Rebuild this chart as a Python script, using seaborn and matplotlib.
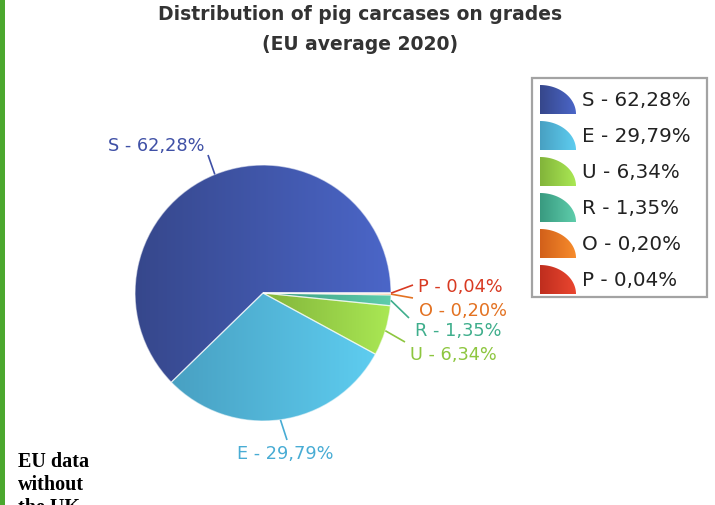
import numpy as np
import matplotlib
matplotlib.use("Agg")
import matplotlib.pyplot as plt
from matplotlib.patches import Rectangle, Polygon
from matplotlib import font_manager
import seaborn as sns

# ---- data ----
grades = ["S", "E", "U", "R", "O", "P"]
shares = [62.28, 29.79, 6.34, 1.35, 0.20, 0.04]
share_texts = ["62,28%", "29,79%", "6,34%", "1,35%", "0,20%", "0,04%"]
dark_colors = ["#36478b", "#48a0c2", "#82b43a", "#399a80", "#d2601a", "#bf2e1e"]
light_colors = ["#4b66c8", "#5ecdf0", "#aae854", "#5ecdab", "#f78c2c", "#ea4630"]
label_colors = ["#3f50a6", "#48acd4", "#8dc63f", "#3fae8c", "#e37222", "#d83a22"]
title_lines = ["Distribution of pig carcases on grades", "(EU average 2020)"]
note_lines = ["EU data", "without", "the UK"]

# ---- layout (pixels, y downward) ----
W, H = 715, 505
CX, CY, RAD = 263, 293, 128
leader_ends = [(208, 155), (287, 440), (405, 342), (409, 318), (413, 298), (413, 285)]
label_pos = [(205, 146), (285, 454), (410, 355), (415, 331), (419, 311), (418, 287)]
label_ha = ["right", "center", "left", "left", "left", "left"]

sns.set_style("white")
plt.rcParams["font.family"] = ["DejaVu Sans"]

# condensed bold title font if available
names = {f.name for f in font_manager.fontManager.ttflist}
if "DejaVu Sans Condensed" in names:
    title_family, title_size = ["DejaVu Sans Condensed"], 14.8
else:
    title_family, title_size = ["DejaVu Sans"], 13.5

fig = plt.figure(figsize=(W / 100, H / 100), dpi=100)
ax = fig.add_axes([0, 0, 1, 1])


def Y(y):
    return H - y


grad = np.linspace(0, 1, 256).reshape(1, -1)

wedges, _ = ax.pie(shares, center=(CX, Y(CY)), radius=RAD, startangle=0,
                   counterclock=True, frame=False)

for i, w in enumerate(wedges):
    v = w.get_path().vertices
    x0, x1 = v[:, 0].min(), v[:, 0].max()
    y0, y1 = v[:, 1].min(), v[:, 1].max()
    cmap = sns.blend_palette([dark_colors[i], light_colors[i]], as_cmap=True)
    im = ax.imshow(grad, cmap=cmap, extent=[x0, x1, y0, y1], aspect="auto",
                   origin="lower", interpolation="bilinear", zorder=2)
    im.set_clip_path(w)
    w.set_facecolor("none")
    w.set_edgecolor((1, 1, 1, 0.55))
    w.set_linewidth(0.9)
    w.set_zorder(3)

    theta = np.deg2rad((w.theta1 + w.theta2) / 2)
    rx = CX + RAD * np.cos(theta)
    ry = Y(CY) + RAD * np.sin(theta)
    ex, ey = leader_ends[i]
    ax.plot([rx, ex], [ry, Y(ey)], color=label_colors[i], lw=1.2, zorder=4,
            solid_capstyle="butt")
    tx, ty = label_pos[i]
    ax.text(tx, Y(ty), f"{grades[i]} - {share_texts[i]}", color=label_colors[i],
            fontsize=12.8, ha=label_ha[i], va="center", zorder=5)

# ---- legend ----
ax.add_patch(Rectangle((532, Y(297)), 175, 219, facecolor="white",
                       edgecolor="#a3a3a3", lw=1.6, zorder=1))
ts = np.linspace(0, np.pi / 2, 60)
for i in range(len(grades)):
    top = 85 + 36 * i
    bot = top + 29
    left, wid, hei = 540, 36, 29
    pts = [(left, Y(bot))] + [(left + wid * np.cos(t), Y(bot) + hei * np.sin(t)) for t in ts]
    poly = Polygon(pts, closed=True, facecolor="none", edgecolor="none", zorder=3)
    ax.add_patch(poly)
    cmap = sns.blend_palette([dark_colors[i], light_colors[i]], as_cmap=True)
    im = ax.imshow(grad, cmap=cmap, extent=[left, left + wid, Y(bot), Y(top)],
                   aspect="auto", origin="lower", interpolation="bilinear", zorder=2)
    im.set_clip_path(poly)
    ax.text(582, Y(100 + 36 * i), f"{grades[i]} - {share_texts[i]}", color="#222222",
            fontsize=14.3, ha="left", va="center", zorder=5)

# ---- title ----
ax.text(360, Y(15), title_lines[0], fontsize=title_size, fontweight="bold",
        family=title_family, color="#333333", ha="center", va="center")
ax.text(360, Y(44), title_lines[1], fontsize=title_size, fontweight="bold",
        family=title_family, color="#333333", ha="center", va="center")

# ---- side bar and note ----
ax.add_patch(Rectangle((0, 0), 5, H, facecolor="#4ba82e", edgecolor="none", zorder=6))
for k, line in enumerate(note_lines):
    ax.text(18, Y(462 + 23 * k), line, fontsize=14.5, fontweight="bold",
            family=["Liberation Serif", "DejaVu Serif"], color="black",
            ha="left", va="center")

ax.set_xlim(0, W)
ax.set_ylim(0, H)
ax.set_aspect("auto")
ax.axis("off")
fig.savefig("out.png", dpi=100, facecolor="white")
